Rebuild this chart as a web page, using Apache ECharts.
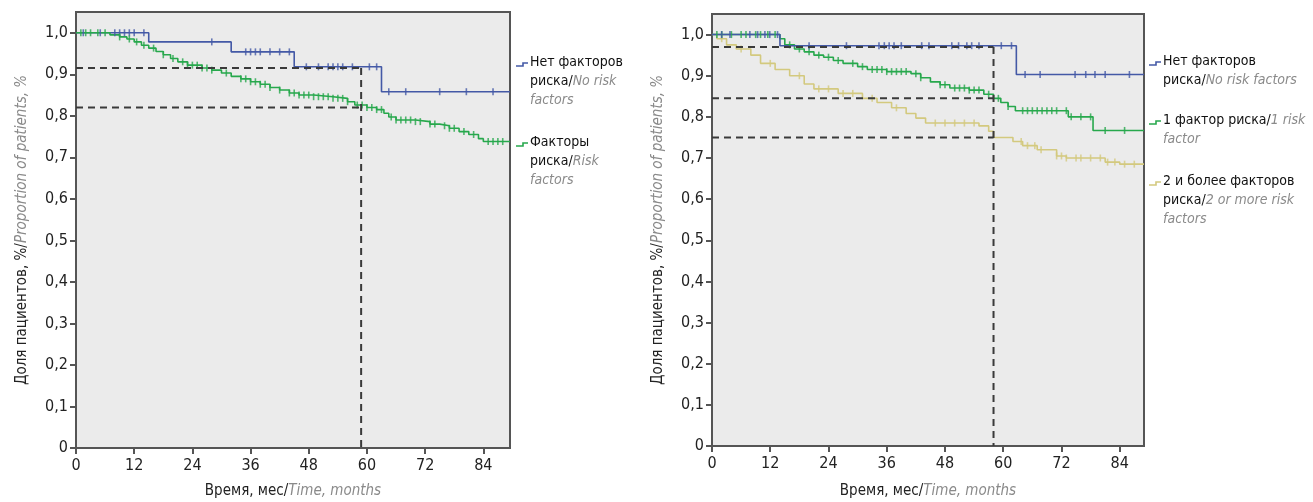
<!DOCTYPE html>
<html>
<head>
<meta charset="utf-8">
<script src="https://cdn.jsdelivr.net/npm/echarts@6/dist/echarts.min.js"></script>
<style>
  html, body { margin: 0; padding: 0; background: #fff; }
  #main { width: 1313px; height: 502px; }
</style>
</head>
<body>
<div id="main"></div>
<script>
var FONT = '"Liberation Sans Narrow", "DejaVu Sans Condensed", sans-serif';

// left panel: no risk factors vs risk factors
var leftNoRisk = [[0, 1], [15, 0.978], [32, 0.954], [45, 0.918], [63, 0.858], [89.5, 0.858]];
var leftNoRiskCens = [1.5, 5, 8, 9, 10, 11, 12, 14, 28, 35, 36, 37, 38, 40, 42, 44, 47.5, 50, 52, 53, 54, 55, 57, 60.5, 62, 64.5, 68, 75, 80.5, 86];
var leftRisk = [[0, 1], [7, 0.995], [9, 0.99], [10.5, 0.985], [12, 0.978], [13.5, 0.97], [15, 0.963], [16.5, 0.955],
  [18, 0.947], [19.5, 0.938], [21, 0.93], [23, 0.922], [26, 0.915], [28, 0.91], [30, 0.903], [32, 0.895],
  [34, 0.889], [36, 0.882], [38, 0.876], [40, 0.868], [42, 0.862], [44, 0.855], [46, 0.85], [49, 0.846],
  [53, 0.842], [56, 0.834], [57.5, 0.826], [60, 0.82], [62, 0.815], [63.5, 0.806], [64.5, 0.797], [66, 0.79],
  [70, 0.786], [73, 0.78], [75, 0.776], [77, 0.77], [79, 0.762], [81, 0.755], [83, 0.745], [84, 0.738], [89.5, 0.738]];
var leftRiskCens = [1, 2, 3, 4.5, 6, 9, 11, 12.5, 14, 16, 18, 20, 22, 23, 24, 25, 26, 27, 28, 31, 34, 35, 36, 37, 38, 39,
  40, 42, 44, 45, 46, 47, 48, 49, 50, 51, 52, 53, 54, 55, 56, 58, 59, 60, 61, 62, 63, 65, 66, 67, 68, 69, 70, 71,
  73, 74, 76, 77, 78, 80, 82, 85, 86, 87, 88];
var leftFiveYr = 58.8;
var leftRefLevels = [0.915, 0.82];

// right panel: 0, 1, 2+ risk factors
var rightNoRisk = [[0, 1], [14, 0.973], [62.7, 0.903], [89, 0.903]];
var rightNoRiskCens = [2, 3.7, 7.8, 9.4, 10.9, 11.9, 13.5, 20, 27.7, 34.4, 35.5, 36.5, 37.5, 39, 43.2, 44.7, 49.4, 50.8,
  52.5, 53.5, 55, 59.6, 61.7, 64.5, 67.6, 74.8, 77, 78.9, 81, 86];
var rightOne = [[0, 1], [14, 0.99], [15, 0.975], [17, 0.965], [19, 0.958], [21, 0.95], [23, 0.945], [25, 0.937],
  [27, 0.93], [30, 0.922], [32, 0.915], [36, 0.91], [41, 0.905], [43, 0.895], [45, 0.885], [47, 0.878], [49, 0.87],
  [53, 0.865], [56, 0.855], [58, 0.845], [59.5, 0.835], [61, 0.825], [62.5, 0.815], [73.4, 0.8], [78.5, 0.767], [89, 0.767]];
var rightOneCens = [1, 2, 4, 6, 7, 9, 10, 11.5, 13, 16, 18, 20, 22, 24, 26, 29, 31, 33, 34, 35, 36, 37, 38, 39, 40, 42,
  43, 47, 48, 50, 51, 52, 53, 54, 55, 57, 59, 61, 64, 65, 66, 67, 68, 69, 70, 71, 73, 74, 76, 78, 81, 85];
var rightTwo = [[0, 1], [1, 0.99], [3, 0.975], [5, 0.965], [8, 0.95], [10, 0.93], [13, 0.915], [16, 0.9], [19, 0.88],
  [21, 0.868], [26, 0.857], [31, 0.845], [34, 0.835], [37, 0.822], [40, 0.808], [42, 0.797], [44, 0.785], [55, 0.778],
  [57, 0.765], [58, 0.75], [62, 0.74], [64, 0.73], [67, 0.72], [71, 0.705], [73, 0.7], [81, 0.69], [84, 0.685], [89, 0.685]];
var rightTwoCens = [2, 6, 12, 18, 22, 24, 27, 29, 33, 38, 46, 48, 50, 52, 54, 63.7, 65, 66.5, 67.8, 71, 72, 73, 75, 76,
  78, 80, 81.5, 83, 85, 87];
var rightFiveYr = 58;
var rightRefLevels = [0.97, 0.845, 0.75];

var BLUE = '#4459a6', GREEN = '#27a84c', YELLOW = '#d3c97e';

var myChart = echarts.init(document.getElementById('main'));

// value of a step curve at time t
function stepAt(curve, t) {
  var v = curve[0][1];
  for (var i = 0; i < curve.length; i++) {
    if (curve[i][0] <= t) v = curve[i][1];
  }
  return v;
}

function curveSeries(idx, data, color) {
  return {
    type: 'line', xAxisIndex: idx, yAxisIndex: idx, step: 'end', data: data,
    showSymbol: false, silent: true,
    lineStyle: { color: color, width: 1.6 }, z: 3
  };
}

function censSeries(idx, curve, times, color) {
  return {
    type: 'scatter', xAxisIndex: idx, yAxisIndex: idx, silent: true,
    data: times.map(function (t) { return [t, stepAt(curve, t)]; }),
    symbol: 'rect', symbolSize: [1.6, 7],
    itemStyle: { color: color }, z: 4
  };
}

function refSeries(idx, fiveYr, levels) {
  var out = [];
  levels.forEach(function (lv) {
    out.push({
      type: 'line', xAxisIndex: idx, yAxisIndex: idx, silent: true, showSymbol: false,
      data: [[0, lv], [fiveYr, lv]],
      lineStyle: { color: '#3a3a3a', width: 2, type: [7, 5] }, z: 5
    });
  });
  out.push({
    type: 'line', xAxisIndex: idx, yAxisIndex: idx, silent: true, showSymbol: false,
    data: [[fiveYr, Math.max.apply(null, levels)], [fiveYr, 0]],
    lineStyle: { color: '#3a3a3a', width: 2, type: [7, 5] }, z: 5
  });
  return out;
}

function xAxisCfg(idx, max, gap) {
  return {
    type: 'value', gridIndex: idx, min: 0, max: max, interval: 12,
    name: '{a|Время, мес/}{b|Time, months}', nameLocation: 'middle', nameGap: gap,
    nameTextStyle: {
      rich: {
        a: { fontFamily: FONT, fontSize: 15, color: '#222' },
        b: { fontFamily: FONT, fontSize: 15, color: '#8a8a8a', fontStyle: 'italic' }
      }
    },
    axisLine: { show: true, onZero: false, lineStyle: { color: '#555', width: 2 } },
    axisTick: { show: true, length: 6, lineStyle: { color: '#555', width: 2 } },
    axisLabel: { showMaxLabel: false, fontFamily: FONT, fontSize: 16, color: '#222', margin: 10 },
    splitLine: { show: false }
  };
}

function yAxisCfg(idx) {
  return {
    type: 'value', gridIndex: idx, min: 0, max: 1.05, interval: 0.1,
    name: '{a|Доля пациентов, %/}{b|Proportion of patients, %}', nameLocation: 'middle', nameGap: 46,
    nameRotate: 90,
    nameTextStyle: {
      rich: {
        a: { fontFamily: FONT, fontSize: 15, color: '#222' },
        b: { fontFamily: FONT, fontSize: 15, color: '#8a8a8a', fontStyle: 'italic' }
      }
    },
    axisLine: { show: true, onZero: false, lineStyle: { color: '#555', width: 2 } },
    axisTick: { show: true, length: 6, lineStyle: { color: '#555', width: 2 } },
    axisLabel: {
      showMaxLabel: false, fontFamily: FONT, fontSize: 16, color: '#222', margin: 8,
      formatter: function (v) { return v === 0 ? '0' : v.toFixed(1).replace('.', ','); }
    },
    splitLine: { show: false }
  };
}

// legend: step-shaped marker and two-language text
function legendItem(x, y, color, text) {
  return [
    {
      type: 'polyline', silent: true,
      shape: { points: [[x, y + 3], [x + 7, y + 3], [x + 7, y], [x + 12, y]] },
      style: { stroke: color, lineWidth: 1.6, fill: null }
    },
    {
      type: 'text', silent: true, left: x + 14, top: y - 10,
      style: {
        text: text, fontFamily: FONT, fontSize: 14, lineHeight: 19,
        rich: {
          a: { fontFamily: FONT, fontSize: 14, lineHeight: 19, fill: '#111' },
          b: { fontFamily: FONT, fontSize: 14, lineHeight: 19, fill: '#8a8a8a', fontStyle: 'italic' }
        }
      }
    }
  ];
}

var graphics = [].concat(
  legendItem(516, 63, BLUE, '{a|Нет факторов}\n{a|риска/}{b|No risk}\n{b|factors}'),
  legendItem(516, 143, GREEN, '{a|Факторы}\n{a|риска/}{b|Risk}\n{b|factors}'),
  legendItem(1149, 62, BLUE, '{a|Нет факторов}\n{a|риска/}{b|No risk factors}'),
  legendItem(1149, 121, GREEN, '{a|1 фактор риска/}{b|1 risk}\n{b|factor}'),
  legendItem(1149, 182, YELLOW, '{a|2 и более факторов}\n{a|риска/}{b|2 or more risk}\n{b|factors}')
);

var option = {
  animation: false,
  backgroundColor: '#fff',
  grid: [
    { left: 76, top: 12, width: 434, height: 436, outerBoundsMode: 'none', show: true, backgroundColor: '#ebebeb', borderColor: '#555', borderWidth: 2 },
    { left: 712, top: 14, width: 432, height: 432, outerBoundsMode: 'none', show: true, backgroundColor: '#ebebeb', borderColor: '#555', borderWidth: 2 }
  ],
  xAxis: [xAxisCfg(0, 89.5, 36), xAxisCfg(1, 89, 38)],
  yAxis: [yAxisCfg(0), yAxisCfg(1)],
  graphic: graphics,
  series: [].concat(
    [
      curveSeries(0, leftNoRisk, BLUE),
      curveSeries(0, leftRisk, GREEN),
      censSeries(0, leftNoRisk, leftNoRiskCens, BLUE),
      censSeries(0, leftRisk, leftRiskCens, GREEN),
      curveSeries(1, rightTwo, YELLOW),
      curveSeries(1, rightOne, GREEN),
      curveSeries(1, rightNoRisk, BLUE),
      censSeries(1, rightTwo, rightTwoCens, YELLOW),
      censSeries(1, rightOne, rightOneCens, GREEN),
      censSeries(1, rightNoRisk, rightNoRiskCens, BLUE)
    ],
    refSeries(0, leftFiveYr, leftRefLevels),
    refSeries(1, rightFiveYr, rightRefLevels)
  )
};

option && myChart.setOption(option);
</script>
</body>
</html>
